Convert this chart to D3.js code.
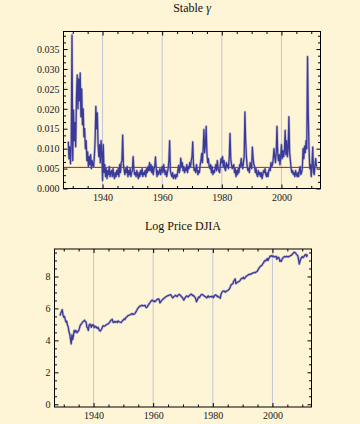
<!DOCTYPE html>
<html>
<head>
<meta charset="utf-8">
<script src="https://cdn.jsdelivr.net/npm/d3@7"></script>
<style>
  html, body { margin: 0; padding: 0; background: #fef4d6; }
  svg { display: block; }
  text { font-family: "Liberation Serif", "DejaVu Serif", serif; }
</style>
</head>
<body>
<svg id="chart" width="360" height="424"></svg>
<script>
// ---------- DATA ----------
const titles = ["Stable γ", "Log Price DJIA"];
const xTickYears = [1940, 1960, 1980, 2000];
const gammaTicks = [0, 0.005, 0.010, 0.015, 0.020, 0.025, 0.030, 0.035];
const priceTicks = [0, 2, 4, 6, 8];
const gammaMean = 0.0053;

// quarterly samples of the stable gamma estimate, starting 1928.5
const gammaStart = 1928.5, gammaStep = 0.25;
const gammaValues = [
  0.0118, 0.0075,
  0.0105, 0.0062, 0.0112, 0.0385,
  0.0070, 0.0197, 0.0120, 0.0165,
  0.0105, 0.0230, 0.0285, 0.0200,
  0.0275, 0.0220, 0.0290, 0.0180,
  0.0250, 0.0160, 0.0200, 0.0130,
  0.0150, 0.0100, 0.0120, 0.0070,
  0.0092, 0.0055, 0.0080, 0.0060,
  0.0085, 0.0050, 0.0070, 0.0058,
  0.0055, 0.0080, 0.0120, 0.0206,
  0.0150, 0.0190, 0.0110, 0.0080,
  0.0110, 0.0065, 0.0120, 0.0090,
  0.0020, 0.0110, 0.0040, 0.0060,
  0.0030, 0.0050, 0.0025, 0.0045,
  0.0035, 0.0055, 0.0030, 0.0040,
  0.0045, 0.0030, 0.0050, 0.0035,
  0.0025, 0.0040, 0.0030, 0.0045,
  0.0035, 0.0050, 0.0030, 0.0060,
  0.0040, 0.0065, 0.0070, 0.0134,
  0.0060, 0.0045, 0.0035, 0.0050,
  0.0040, 0.0055, 0.0030, 0.0045,
  0.0035, 0.0050, 0.0030, 0.0040,
  0.0045, 0.0080, 0.0050, 0.0035,
  0.0040, 0.0030, 0.0045, 0.0035,
  0.0025, 0.0040, 0.0030, 0.0045,
  0.0035, 0.0050, 0.0030, 0.0040,
  0.0035, 0.0045, 0.0030, 0.0050,
  0.0040, 0.0055, 0.0045, 0.0065,
  0.0045, 0.0060, 0.0040, 0.0055,
  0.0035, 0.0050, 0.0055, 0.0079,
  0.0050, 0.0030, 0.0045, 0.0035,
  0.0040, 0.0050, 0.0035, 0.0045,
  0.0055, 0.0040, 0.0060, 0.0045,
  0.0035, 0.0045, 0.0030, 0.0040,
  0.0050, 0.0070, 0.0120, 0.0045,
  0.0035, 0.0030, 0.0040, 0.0025,
  0.0030, 0.0035, 0.0025, 0.0035,
  0.0030, 0.0045, 0.0058, 0.0040,
  0.0050, 0.0076, 0.0055, 0.0065,
  0.0045, 0.0055, 0.0040, 0.0050,
  0.0045, 0.0060, 0.0040, 0.0055,
  0.0050, 0.0065, 0.0055, 0.0070,
  0.0080, 0.0117, 0.0060, 0.0045,
  0.0050, 0.0040, 0.0060, 0.0045,
  0.0035, 0.0045, 0.0040, 0.0060,
  0.0070, 0.0088, 0.0065, 0.0100,
  0.0148, 0.0090, 0.0110, 0.0156,
  0.0090, 0.0065, 0.0075, 0.0055,
  0.0050, 0.0060, 0.0040, 0.0055,
  0.0035, 0.0045, 0.0040, 0.0050,
  0.0060, 0.0045, 0.0070, 0.0050,
  0.0045, 0.0040, 0.0060, 0.0075,
  0.0065, 0.0080, 0.0055, 0.0070,
  0.0050, 0.0045, 0.0065, 0.0055,
  0.0060, 0.0050, 0.0080, 0.0138,
  0.0075, 0.0060, 0.0050, 0.0055,
  0.0060, 0.0040, 0.0050, 0.0030,
  0.0045, 0.0035, 0.0050, 0.0040,
  0.0060, 0.0055, 0.0075, 0.0060,
  0.0050, 0.0065, 0.0080, 0.0192,
  0.0120, 0.0080, 0.0055, 0.0045,
  0.0050, 0.0040, 0.0065, 0.0055,
  0.0050, 0.0104, 0.0075, 0.0060,
  0.0055, 0.0040, 0.0050, 0.0035,
  0.0030, 0.0045, 0.0035, 0.0040,
  0.0030, 0.0040, 0.0025, 0.0035,
  0.0045, 0.0040, 0.0050, 0.0035,
  0.0030, 0.0040, 0.0030, 0.0045,
  0.0050, 0.0045, 0.0065, 0.0055,
  0.0060, 0.0075, 0.0100, 0.0080,
  0.0065, 0.0090, 0.0156, 0.0090,
  0.0070, 0.0085, 0.0060, 0.0080,
  0.0110, 0.0075, 0.0095, 0.0080,
  0.0095, 0.0146, 0.0085, 0.0120,
  0.0080, 0.0100, 0.0180, 0.0090,
  0.0070, 0.0050, 0.0040, 0.0045,
  0.0035, 0.0040, 0.0030, 0.0045,
  0.0035, 0.0030, 0.0040, 0.0030,
  0.0045, 0.0055, 0.0035, 0.0040,
  0.0050, 0.0100, 0.0075, 0.0106,
  0.0090, 0.0120, 0.0100, 0.0331,
  0.0185, 0.0100, 0.0050, 0.0060,
  0.0030, 0.0060, 0.0104, 0.0040,
  0.0035, 0.0060, 0.0075, 0.0055
];

// quarterly log price of the DJIA, starting 1928.75
const priceStart = 1928.75, priceStep = 0.25;
const priceValues = [
  5.55,
  5.70, 5.80, 5.92, 5.60,
  5.45, 5.50, 5.30, 5.15,
  5.20, 4.95, 4.85, 4.55,
  4.40, 4.10, 3.78, 4.35,
  4.05, 4.30, 4.62, 4.50,
  4.62, 4.55, 4.48, 4.58,
  4.60, 4.75, 4.92, 5.00,
  5.05, 5.12, 5.18, 5.22,
  5.26, 5.18, 5.15, 4.85,
  4.78, 4.62, 4.95, 5.02,
  4.95, 4.82, 4.98, 4.92,
  4.96, 4.80, 4.85, 4.88,
  4.80, 4.76, 4.82, 4.70,
  4.62, 4.58, 4.65, 4.72,
  4.85, 4.92, 4.88, 4.90,
  4.93, 4.98, 5.00, 5.02,
  5.05, 5.10, 5.15, 5.25,
  5.28, 5.32, 5.15, 5.12,
  5.18, 5.14, 5.18, 5.16,
  5.12, 5.22, 5.18, 5.15,
  5.13, 5.12, 5.18, 5.24,
  5.28, 5.34, 5.30, 5.40,
  5.45, 5.48, 5.55, 5.57,
  5.58, 5.60, 5.62, 5.66,
  5.68, 5.62, 5.64, 5.66,
  5.72, 5.80, 5.88, 5.98,
  6.02, 6.10, 6.15, 6.14,
  6.18, 6.20, 6.16, 6.18,
  6.18, 6.20, 6.08, 6.05,
  6.10, 6.18, 6.25, 6.32,
  6.38, 6.45, 6.50, 6.52,
  6.45, 6.48, 6.42, 6.44,
  6.50, 6.55, 6.58, 6.60,
  6.56, 6.35, 6.40, 6.48,
  6.52, 6.58, 6.62, 6.64,
  6.70, 6.73, 6.76, 6.78,
  6.80, 6.82, 6.84, 6.86,
  6.84, 6.75, 6.66, 6.70,
  6.75, 6.78, 6.82, 6.78,
  6.74, 6.80, 6.85, 6.88,
  6.84, 6.80, 6.72, 6.70,
  6.62, 6.52, 6.60, 6.68,
  6.74, 6.78, 6.76, 6.72,
  6.78, 6.82, 6.86, 6.90,
  6.86, 6.80, 6.82, 6.74,
  6.70, 6.62, 6.42, 6.50,
  6.62, 6.72, 6.68, 6.76,
  6.84, 6.88, 6.86, 6.84,
  6.80, 6.76, 6.74, 6.70,
  6.66, 6.74, 6.78, 6.70,
  6.72, 6.74, 6.76, 6.72,
  6.76, 6.68, 6.78, 6.84,
  6.84, 6.82, 6.74, 6.76,
  6.72, 6.68, 6.64, 6.88,
  6.98, 7.06, 7.08, 7.10,
  7.04, 7.02, 7.08, 7.10,
  7.12, 7.16, 7.20, 7.30,
  7.42, 7.50, 7.52, 7.56,
  7.70, 7.78, 7.85, 7.55,
  7.60, 7.64, 7.66, 7.68,
  7.72, 7.78, 7.86, 7.88,
  7.88, 7.95, 7.86, 7.90,
  7.96, 8.02, 8.05, 8.08,
  8.12, 8.14, 8.12, 8.15,
  8.18, 8.20, 8.22, 8.24,
  8.26, 8.24, 8.28, 8.30,
  8.35, 8.45, 8.52, 8.58,
  8.64, 8.68, 8.70, 8.80,
  8.85, 8.95, 9.00, 8.98,
  9.05, 9.12, 9.00, 9.12,
  9.20, 9.28, 9.26, 9.30,
  9.25, 9.28, 9.24, 9.22,
  9.24, 9.26, 9.08, 9.18,
  9.20, 9.15, 8.95, 9.00,
  8.95, 9.10, 9.15, 9.22,
  9.25, 9.24, 9.22, 9.26,
  9.24, 9.22, 9.25, 9.26,
  9.30, 9.32, 9.35, 9.42,
  9.45, 9.52, 9.50, 9.48,
  9.40, 9.35, 9.30, 9.05,
  8.78, 8.95, 9.10, 9.18,
  9.25, 9.18, 9.22, 9.30,
  9.36, 9.38, 9.25, 9.38
];

// ---------- DRAWING ----------
const svg = d3.select("#chart");
const lineColor = "#3a3a98";
const gridColor = "#c4c6d6";
const labelColor = "#1a1a1a";

function panel(opts) {
  const { left, right, top, bottom, xDomain, yDomain, yTicks, yMinorStep,
          yFormat, title, titleY, series, start, step, refLine, labelGap } = opts;
  const x = d3.scaleLinear().domain(xDomain).range([left, right]);
  const y = d3.scaleLinear().domain(yDomain).range([bottom, top]);
  const g = svg.append("g");

  // vertical grid lines
  g.append("g").selectAll("line").data(xTickYears).join("line")
    .attr("x1", d => x(d)).attr("x2", d => x(d))
    .attr("y1", top).attr("y2", bottom)
    .attr("stroke", gridColor).attr("stroke-width", 1);

  // reference line
  if (refLine !== undefined) {
    g.append("line")
      .attr("x1", left).attr("x2", right)
      .attr("y1", y(refLine)).attr("y2", y(refLine))
      .attr("stroke", "#c0101a").attr("stroke-width", 1);
  }

  // data line (soft halo + core)
  const pts = series.map((v, i) => [start + i * step, v]);
  const lineGen = d3.line().x(d => x(d[0])).y(d => y(d[1]));
  g.append("path").datum(pts)
    .attr("fill", "none")
    .attr("stroke", "#8080c0")
    .attr("stroke-opacity", 0.45)
    .attr("stroke-width", 2.6)
    .attr("stroke-linejoin", "round")
    .attr("d", lineGen);
  g.append("path").datum(pts)
    .attr("fill", "none")
    .attr("stroke", lineColor)
    .attr("stroke-width", 1.3)
    .attr("stroke-linejoin", "round")
    .attr("d", lineGen);

  // ticks
  const xMinor = d3.range(1930, 2013, 5).filter(v => !xTickYears.includes(v));
  const yMinor = [];
  const r0 = Math.ceil(yDomain[0] / yMinorStep), r1 = Math.floor(yDomain[1] / yMinorStep);
  for (let r = r0; r <= r1; r++) {
    const val = r * yMinorStep;
    if (!yTicks.some(t => Math.abs(t - val) < yMinorStep / 10)) yMinor.push(val);
  }
  const majorLen = 4, minorLen = 2.5;

  function axisGroup(axis, tx, ty) {
    const a = g.append("g").attr("transform", `translate(${tx},${ty})`).call(axis);
    a.select(".domain").remove();
    a.selectAll("line").attr("stroke", "#000");
    a.selectAll("text").attr("fill", labelColor).style("font-size", "10px")
      .style("font-family", '"Liberation Serif", serif');
    return a;
  }
  // bottom (labels)
  axisGroup(d3.axisBottom(x).tickValues(xTickYears).tickFormat(d3.format("d"))
    .tickSizeInner(-majorLen).tickSizeOuter(0).tickPadding(5), 0, bottom);
  axisGroup(d3.axisBottom(x).tickValues(xMinor).tickFormat("")
    .tickSizeInner(-minorLen).tickSizeOuter(0), 0, bottom);
  // top
  axisGroup(d3.axisTop(x).tickValues(xTickYears).tickFormat("")
    .tickSizeInner(-majorLen).tickSizeOuter(0), 0, top);
  axisGroup(d3.axisTop(x).tickValues(xMinor).tickFormat("")
    .tickSizeInner(-minorLen).tickSizeOuter(0), 0, top);
  // left (labels)
  axisGroup(d3.axisLeft(y).tickValues(yTicks).tickFormat(yFormat)
    .tickSizeInner(-majorLen).tickSizeOuter(0).tickPadding(labelGap), left, 0);
  axisGroup(d3.axisLeft(y).tickValues(yMinor).tickFormat("")
    .tickSizeInner(-minorLen).tickSizeOuter(0), left, 0);
  // right
  axisGroup(d3.axisRight(y).tickValues(yTicks).tickFormat("")
    .tickSizeInner(-majorLen).tickSizeOuter(0), right, 0);
  axisGroup(d3.axisRight(y).tickValues(yMinor).tickFormat("")
    .tickSizeInner(-minorLen).tickSizeOuter(0), right, 0);

  // frame
  g.append("rect")
    .attr("x", left).attr("y", top)
    .attr("width", right - left).attr("height", bottom - top)
    .attr("fill", "none").attr("stroke", "#000").attr("stroke-width", 1);

  // title
  const t = svg.append("text")
    .attr("x", (left + right) / 2).attr("y", titleY)
    .attr("text-anchor", "middle")
    .attr("fill", "#111")
    .style("font-size", "12px");
  const parts = title.split(" ");
  if (title === titles[0]) {
    t.append("tspan").text(parts[0] + " ");
    t.append("tspan").style("font-style", "italic").text(parts[1]);
  } else {
    t.text(title);
  }
}

panel({
  left: 63.5, right: 320.5, top: 31.5, bottom: 188.5,
  xDomain: [1926.9, 2013.1], yDomain: [0, 0.0394],
  yTicks: gammaTicks, yMinorStep: 0.005 / 3, yFormat: d3.format(".3f"),
  title: titles[0], titleY: 12,
  series: gammaValues, start: gammaStart, step: gammaStep,
  refLine: gammaMean, labelGap: 4
});

panel({
  left: 54.5, right: 311.5, top: 249, bottom: 407,
  xDomain: [1926.9, 2013.1], yDomain: [-0.17, 9.72],
  yTicks: priceTicks, yMinorStep: 0.5, yFormat: d3.format("d"),
  title: titles[1], titleY: 230,
  series: priceValues, start: priceStart, step: priceStep,
  labelGap: 4
});
</script>
</body>
</html>
